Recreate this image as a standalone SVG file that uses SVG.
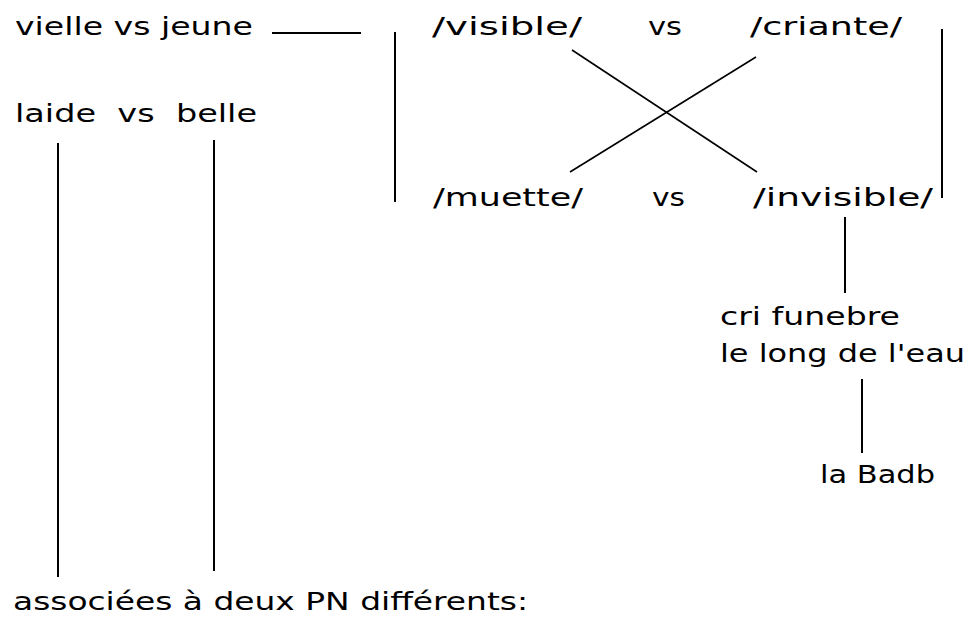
<svg xmlns="http://www.w3.org/2000/svg" width="972" height="617" viewBox="0 0 972 617">
<style>
.t{font-family:"DejaVu Sans","Liberation Sans",sans-serif;font-size:25px;fill:#000;}
.c{stroke:#000;stroke-width:2;fill:none;}
.d{stroke:#000;stroke-width:1.6;fill:none;}
</style>
<rect width="972" height="617" fill="#fff"/>
<g id="connectors">
<line class="c" x1="272" y1="33" x2="361" y2="33"/>
<line class="c" x1="395" y1="32" x2="395" y2="202"/>
<line class="c" x1="942" y1="29" x2="942" y2="198"/>
<line class="d" x1="572" y1="50" x2="757" y2="172"/>
<line class="d" x1="756" y1="57" x2="570" y2="172"/>
<line class="c" x1="58" y1="143" x2="58" y2="577"/>
<line class="c" x1="214" y1="140" x2="214" y2="571"/>
<line class="c" x1="845" y1="217" x2="845" y2="293"/>
<line class="c" x1="862" y1="379" x2="862" y2="453"/>
</g>
<g id="vielle-jeune"><text class="t" x="15" y="35" textLength="238" lengthAdjust="spacingAndGlyphs">vielle vs jeune</text></g>
<g id="laide-belle"><text class="t" x="15" y="122" xml:space="preserve" textLength="242" lengthAdjust="spacingAndGlyphs">laide  vs  belle</text></g>
<g id="visible"><text class="t" x="432" y="35" textLength="150" lengthAdjust="spacingAndGlyphs">/visible/</text></g>
<g id="vs-top"><text class="t" x="648" y="35" textLength="34" lengthAdjust="spacingAndGlyphs">vs</text></g>
<g id="criante"><text class="t" x="750" y="35" textLength="152" lengthAdjust="spacingAndGlyphs">/criante/</text></g>
<g id="muette"><text class="t" x="433" y="206" textLength="150" lengthAdjust="spacingAndGlyphs">/muette/</text></g>
<g id="vs-bottom"><text class="t" x="652" y="206" textLength="33" lengthAdjust="spacingAndGlyphs">vs</text></g>
<g id="invisible"><text class="t" x="753" y="206" textLength="180" lengthAdjust="spacingAndGlyphs">/invisible/</text></g>
<g id="cri-funebre">
<text class="t" x="720" y="325" textLength="180" lengthAdjust="spacingAndGlyphs">cri funebre</text>
<text class="t" x="720" y="362" textLength="245" lengthAdjust="spacingAndGlyphs">le long de l'eau</text>
</g>
<g id="badb"><text class="t" x="820" y="483" textLength="115" lengthAdjust="spacingAndGlyphs">la Badb</text></g>
<g id="associees"><text class="t" x="13" y="610" textLength="515" lengthAdjust="spacingAndGlyphs">associées à deux PN différents:</text></g>
</svg>
